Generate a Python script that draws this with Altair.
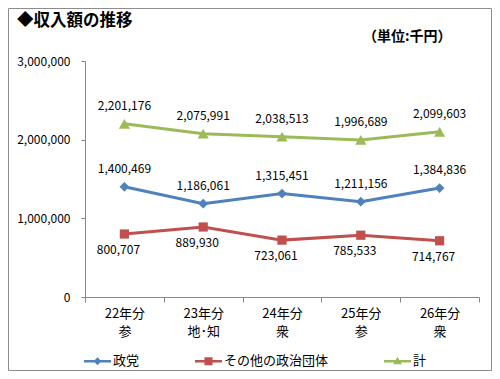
import altair as alt
import pandas as pd

FONT = "Noto Sans CJK JP"

categories = ["22年分|参", "23年分|地･知", "24年分|衆", "25年分|参", "26年分|衆"]
series_names = ["政党", "その他の政治団体", "計"]
seito = [1400469, 1186061, 1315451, 1211156, 1384836]
sonota = [800707, 889930, 723061, 785533, 714767]
kei = [2201176, 2075991, 2038513, 1996689, 2099603]
y_ticks = [0, 1000000, 2000000, 3000000]

colors = ["#4F81BD", "#C0504D", "#9BBB59"]
shapes = ["diamond", "square", "triangle-up"]
sizes = [95, 85, 125]
label_dy = [-18, 16, -18]
label_dx = [0, -6, 0]
legend_paths = [
    "M-1,-0.1L1,-0.1L1,0.1L-1,0.1Z M0,-0.29L0.29,0L0,0.29L-0.29,0Z",
    "M-1,-0.1L1,-0.1L1,0.1L-1,0.1Z M-0.3,-0.3L0.3,-0.3L0.3,0.3L-0.3,0.3Z",
    "M-1,-0.1L1,-0.1L1,0.1L-1,0.1Z M0,-0.34L0.32,0.22L-0.32,0.22Z",
]

rows = []
for s, vals in zip(series_names, [seito, sonota, kei]):
    for c, v in zip(categories, vals):
        rows.append({"cat": c, "series": s, "value": v})
df = pd.DataFrame(rows)

x_enc = alt.X(
    "cat:N",
    sort=categories,
    scale=alt.Scale(type="band", paddingInner=0, paddingOuter=0),
    axis=alt.Axis(
        title=None, labelAngle=0,
        labelExpr="isString(datum.value) ? split(datum.value, '|') : ''",
        tickBand="extent", tickSize=5, labelPadding=5, labelFontSize=13,
        labelLineHeight=18, domainColor="#868686", tickColor="#868686",
        labelColor="black", labelFont=FONT,
    ),
)
y_enc = alt.Y(
    "value:Q",
    scale=alt.Scale(domain=[0, 3000000], nice=False),
    axis=alt.Axis(
        title=None, values=y_ticks, labelExpr="format(datum.value, ',')",
        grid=False, tickSize=4,
        labelPadding=11, labelFontSize=12, domainColor="#868686",
        tickColor="#868686", labelColor="black", labelFont=FONT,
    ),
)

base = alt.Chart(df)

border = alt.Chart(pd.DataFrame({"a": [0]})).mark_rect(
    fillOpacity=0, stroke="#8c8c8c", strokeWidth=1
).encode(
    x=alt.value(-76.5), x2=alt.value(406.5), y=alt.value(-52.5), y2=alt.value(309.5)
)

title = alt.Chart(pd.DataFrame({"t": ["◆収入額の推移"]})).mark_text(
    align="left", baseline="middle", fontSize=16.5, fontWeight="bold", font=FONT, color="black"
).encode(x=alt.value(-68), y=alt.value(-40), text="t:N")

unit = alt.Chart(pd.DataFrame({"t": ["（単位:千円）"]})).mark_text(
    align="left", baseline="middle", fontSize=14, fontWeight="bold", font=FONT, color="black"
).encode(x=alt.value(278), y=alt.value(-24.5), text="t:N")

layers = [border]
for i, s in enumerate(series_names):
    sub = base.transform_filter(alt.datum.series == s)
    layers.append(sub.mark_line(color=colors[i], strokeWidth=3).encode(x=x_enc, y=y_enc))
for i, s in enumerate(series_names):
    sub = base.transform_filter(alt.datum.series == s)
    layers.append(
        sub.mark_point(shape=shapes[i], size=sizes[i], filled=True, color=colors[i], opacity=1)
        .encode(x=x_enc, y=y_enc)
    )
for i, s in enumerate(series_names):
    sub = base.transform_filter(alt.datum.series == s)
    layers.append(
        sub.mark_text(baseline="middle", dy=label_dy[i], dx=label_dx[i], fontSize=12, font=FONT, color="black")
        .encode(x=x_enc, y=y_enc, text=alt.Text("value:Q", format=","))
    )

leg_props = dict(
    orient="none", legendX=-1, legendY=286.5, direction="horizontal", title=None,
    symbolSize=729, symbolStrokeWidth=0, symbolOpacity=1, labelFontSize=13,
    labelFont=FONT, labelColor="black", labelOffset=2, columnPadding=55, padding=0,
)
legend_layer = base.transform_filter("false").mark_point(filled=True, opacity=1).encode(
    x=x_enc, y=y_enc,
    color=alt.Color("series:N", scale=alt.Scale(domain=series_names, range=colors), legend=alt.Legend(**leg_props)),
    shape=alt.Shape("series:N", scale=alt.Scale(domain=series_names, range=legend_paths), legend=alt.Legend(**leg_props)),
)
layers.append(legend_layer)
layers += [title, unit]

chart = alt.layer(*layers).properties(
    width=394, height=236,
    padding={"left": 77, "top": 53, "right": 13, "bottom": 74},
    autosize=alt.AutoSizeParams(type="none"),
).configure_view(stroke=None)

chart.save("out.html", embed_options={"renderer": "svg", "actions": False})
